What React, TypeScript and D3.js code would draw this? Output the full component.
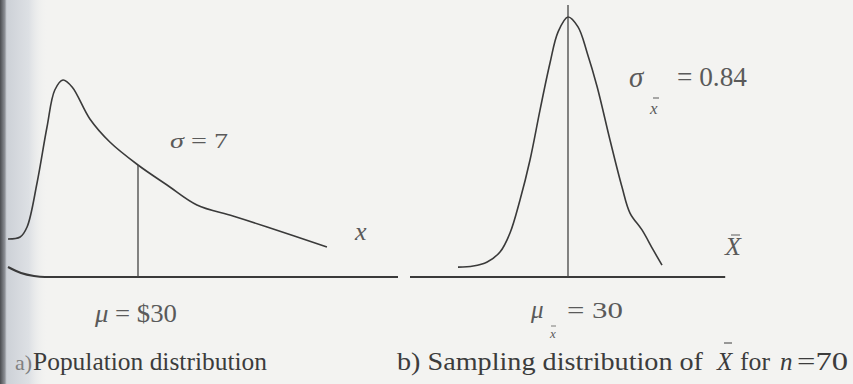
import React from "react";
import * as d3 from "d3";

// Population distribution (x in dollars, density in arbitrary units)
const popX = [0, 2.8, 4.4, 6.7, 9.0, 10.8, 12.7, 14.8, 18.9, 23.5, 30, 36.7, 43.6, 51.9, 59.8, 73.6];
const popY = [19, 20, 25, 47, 75, 93.5, 98.5, 95, 79, 67.5, 56, 46, 36, 30.5, 25, 15];
// Left axis lead-in (curved start of baseline)
const leadX = [0, 3, 6, 8.5, 90];
const leadY = [5, 2, 0.5, 0, 0];
const popMean = 30;
const popSigma = 7;

// Sampling distribution of X-bar
const sampX = [27.25, 27.63, 27.98, 28.3, 28.55, 28.8, 29.05, 29.3, 29.55, 29.75, 30, 30.25, 30.48, 30.73, 31.05, 31.35, 31.55, 31.85, 32.13, 32.35];
const sampY = [3.8, 4.2, 5.8, 9.6, 16.9, 29.6, 45, 64.2, 82.3, 94.2, 100, 96.2, 86.2, 73.1, 52.7, 34.6, 24.6, 18.1, 10.4, 4.6];
const sampMean = 30;
const sampSE = 0.84;
const sampN = 70;
const sampAxis = [26.05, 33.93];

const W = 853;
const H = 384;

export default function App() {
  const xL = d3.scaleLinear().domain([0, 90]).range([8, 398]);
  const yL = d3.scaleLinear().domain([0, 100]).range([277, 77]);
  const xR = d3.scaleLinear().domain([26, 34]).range([408, 728]);
  const yR = d3.scaleLinear().domain([0, 100]).range([277, 17]);

  const lineL = d3
    .line<number>()
    .x((_, i) => xL(popX[i]))
    .y((d) => yL(d))
    .curve(d3.curveCatmullRom.alpha(0.5));
  const leadLine = d3
    .line<number>()
    .x((_, i) => xL(leadX[i]))
    .y((d) => yL(d))
    .curve(d3.curveMonotoneX);
  const lineR = d3
    .line<number>()
    .x((_, i) => xR(sampX[i]))
    .y((d) => yR(d))
    .curve(d3.curveCatmullRom.alpha(0.5));

  const popAtMean = popY[popX.indexOf(popMean)];

  const serif = "'Liberation Serif', 'Times New Roman', serif";
  const curveCol = "#3a3a3a";
  const mathCol = "#5a5a5a";
  const capCol = "#3c3c3c";
  const capY = 370;

  return (
    <svg
      width={W}
      height={H}
      style={{ position: "absolute", left: 0, top: 0 }}
      fontFamily={serif}
    >
      <defs>
        <linearGradient id="edge" x1="0" x2="1" y1="0" y2="0">
          <stop offset="0" stopColor="#4a4c50" />
          <stop offset="0.1" stopColor="#8d9096" />
          <stop offset="0.14" stopColor="#cdd1d7" />
          <stop offset="0.6" stopColor="#dde0e4" />
          <stop offset="1" stopColor="#f3f3f1" stopOpacity="0" />
        </linearGradient>
      </defs>
      <rect width={W} height={H} fill="#f3f3f1" />
      <rect x={0} y={0} width={48} height={H} fill="url(#edge)" />

      {/* Left panel */}
      <path d={leadLine(leadY) || ""} fill="none" stroke="#3a3a3a" strokeWidth={2.2} />
      <path d={lineL(popY) || ""} fill="none" stroke={curveCol} strokeWidth={1.6} />
      <line
        x1={xL(popMean)}
        x2={xL(popMean)}
        y1={yL(popAtMean)}
        y2={yL(0)}
        stroke="#444"
        strokeWidth={1.3}
      />
      <text x={170} y={148} fontSize={22} fill={mathCol} textLength={58} lengthAdjust="spacingAndGlyphs">
        <tspan fontStyle="italic">σ</tspan> = {popSigma}
      </text>
      <text x={355} y={240} fontSize={26} fontStyle="italic" fill={mathCol}>
        x
      </text>
      <text x={95} y={322} fontSize={25} fill={mathCol} textLength={82} lengthAdjust="spacingAndGlyphs">
        <tspan fontStyle="italic">μ</tspan> = ${popMean}
      </text>
      <text x={15} y={capY} fontSize={22} fill="#808080">
        a)
      </text>
      <text x={33} y={capY} fontSize={25} fill={capCol} textLength={234} lengthAdjust="spacingAndGlyphs">
        Population distribution
      </text>

      {/* Right panel */}
      <line x1={xR(sampAxis[0])} x2={xR(sampAxis[1])} y1={yR(0)} y2={yR(0)} stroke="#3a3a3a" strokeWidth={2.2} />
      <path d={lineR(sampY) || ""} fill="none" stroke={curveCol} strokeWidth={1.6} />
      <line
        x1={xR(sampMean)}
        x2={xR(sampMean)}
        y1={yR(104.6)}
        y2={yR(0)}
        stroke="#444"
        strokeWidth={1.3}
      />
      <text x={629} y={87} fontSize={29} fontStyle="italic" fill={mathCol}>
        σ
      </text>
      <text x={650} y={114} fontSize={17} fontStyle="italic" fill={mathCol}>
        x
      </text>
      <line x1={653} x2={659} y1={98} y2={98} stroke={mathCol} strokeWidth={1} />
      <text x={677} y={86} fontSize={27} fill={mathCol} textLength={70} lengthAdjust="spacingAndGlyphs">
        = {sampSE}
      </text>

      <text x={725} y={255} fontSize={26} fontStyle="italic" fill={mathCol}>
        X
      </text>
      <line x1={731} x2={740} y1={235} y2={235} stroke={mathCol} strokeWidth={1} />

      <text x={531} y={318} fontSize={25} fontStyle="italic" fill={mathCol}>
        μ
      </text>
      <text x={550} y={338} fontSize={13} fontStyle="italic" fill={mathCol}>
        x
      </text>
      <line x1={551} x2={556} y1={326} y2={326} stroke={mathCol} strokeWidth={0.8} />
      <text x={567} y={318} fontSize={24} fill={mathCol} textLength={56} lengthAdjust="spacingAndGlyphs">
        = {sampMean}
      </text>

      <text x={397} y={capY} fontSize={25} fill={capCol} textLength={306} lengthAdjust="spacingAndGlyphs">
        b) Sampling distribution of
      </text>
      <text x={717} y={capY} fontSize={25} fontStyle="italic" fill={capCol}>
        X
      </text>
      <line x1={724} x2={732} y1={343} y2={343} stroke={capCol} strokeWidth={1} />
      <text x={740} y={capY} fontSize={25} fill={capCol} textLength={30} lengthAdjust="spacingAndGlyphs">
        for
      </text>
      <text x={780} y={capY} fontSize={25} fontStyle="italic" fill={capCol}>
        n
      </text>
      <text x={797} y={capY} fontSize={25} fill={capCol} textLength={51} lengthAdjust="spacingAndGlyphs">
        ={sampN}
      </text>
    </svg>
  );
}
